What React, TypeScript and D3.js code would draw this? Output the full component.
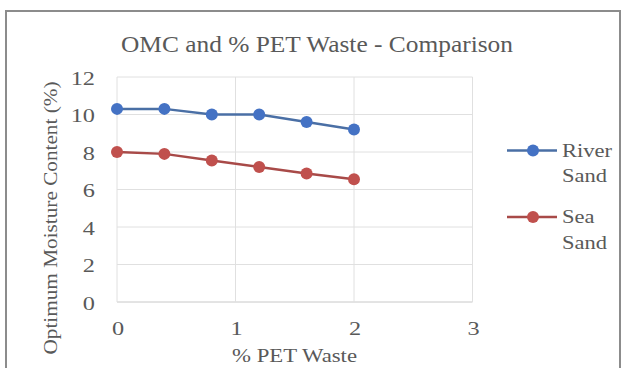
import React from "react";
import * as d3 from "d3";

const xValues = [0, 0.4, 0.8, 1.2, 1.6, 2.0];
const riverSand = [10.3, 10.3, 10.0, 10.0, 9.6, 9.2];
const seaSand = [8.0, 7.9, 7.55, 7.2, 6.85, 6.55];
const xTicks = [0, 1, 2, 3];
const yTicks = [0, 2, 4, 6, 8, 10, 12];
const seriesNames = [["River", "Sand"], ["Sea", "Sand"]];
const colors = ["#4472C4", "#C0504D"];
const lineColors = ["#4a6fa5", "#a84a48"];

const font = "'Liberation Serif', 'Times New Roman', serif";
const textColor = "#595959";

function T(props: { x: number; y: number; sx: number; size: number; anchor?: string; children: React.ReactNode; rotate?: number; length?: number }) {
  const { x, y, sx, size, anchor, children, rotate, length } = props;
  return (
    <text
      transform={`translate(${x},${y})${rotate ? ` rotate(${rotate})` : ""} scale(${sx},1)`}
      textAnchor={anchor || "start"}
      dy="0.35em"
      fontFamily={font}
      fontSize={size}
      fill={textColor}
      textLength={length}
      lengthAdjust={length ? "spacingAndGlyphs" : undefined}
    >
      {children}
    </text>
  );
}

export default function App() {
  const W = 622, H = 368;
  const x = d3.scaleLinear().domain([0, 3]).range([117, 472.5]);
  const y = d3.scaleLinear().domain([0, 12]).range([302, 77]);
  const line = d3.line<number>().x((_, i) => x(xValues[i])).y((d) => y(d));
  const series = [riverSand, seaSand];
  const legendY = [150.5, 217];
  return (
    <svg width={W} height={H} style={{ position: "absolute", left: 0, top: 0, background: "#fff" }}>
      <rect x={6} y={11} width={614} height={360} fill="#fff" stroke="#8c8c8c" strokeWidth={2} />
      {yTicks.map((t) => (
        <line key={"gy" + t} x1={x(0)} x2={x(3)} y1={y(t)} y2={y(t)} stroke={t === 0 ? "#c8c8c8" : "#e0e0e0"} strokeWidth={1} />
      ))}
      {xTicks.map((t) => (
        <line key={"gx" + t} x1={x(t)} x2={x(t)} y1={y(0)} y2={y(12)} stroke="#e0e0e0" strokeWidth={1} />
      ))}
      {yTicks.map((t) => (
        <T key={"ty" + t} x={95} y={y(t) + 1.5} sx={1.35} size={18} anchor="end">{t}</T>
      ))}
      {xTicks.map((t) => (
        <T key={"tx" + t} x={x(t) + 1} y={329} sx={1.35} size={18} anchor="middle">{t}</T>
      ))}
      <T x={317} y={44} sx={1} size={24} anchor="middle" length={392}>OMC and % PET Waste - Comparison</T>
      <T x={294.5} y={356} sx={1} size={18} anchor="middle" length={125}>% PET Waste</T>
      <T x={51} y={218} sx={1} size={18} anchor="middle" rotate={-90} length={273}>Optimum Moisture Content (%)</T>
      {series.map((s, k) => (
        <g key={"s" + k}>
          <path d={line(s) || ""} fill="none" stroke={lineColors[k]} strokeWidth={2.5} />
          {s.map((v, i) => (
            <circle key={i} cx={x(xValues[i])} cy={y(v)} r={6} fill={colors[k]} />
          ))}
        </g>
      ))}
      {seriesNames.map((n, k) => (
        <g key={"l" + k}>
          <line x1={507} x2={557} y1={legendY[k]} y2={legendY[k]} stroke={lineColors[k]} strokeWidth={2.5} />
          <circle cx={533} cy={legendY[k]} r={6} fill={colors[k]} />
          <T x={562} y={legendY[k]} sx={1.25} size={18}>{n[0]}</T>
          <T x={562} y={legendY[k] + 25.5} sx={1.25} size={18}>{n[1]}</T>
        </g>
      ))}
    </svg>
  );
}
